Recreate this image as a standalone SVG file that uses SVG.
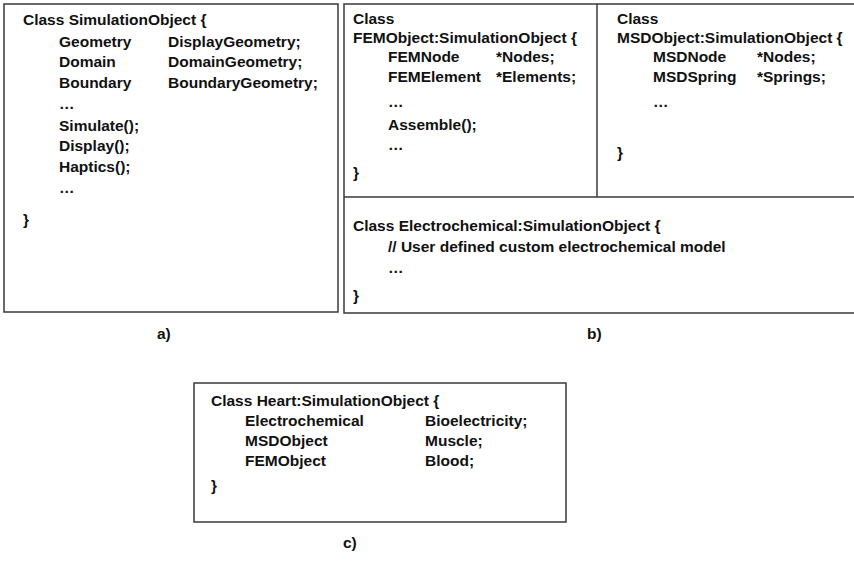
<svg xmlns="http://www.w3.org/2000/svg" width="854" height="572" viewBox="0 0 854 572">
<style>
  text { font-family: "Liberation Sans", Arial, Helvetica, sans-serif; font-weight: bold; font-size: 15.5px; fill: #111; }
  .frame { fill: none; stroke: #3a3a3a; stroke-width: 1.5; }
</style>
<rect width="854" height="572" fill="#fff"/>
<g id="simulationObject">
  <rect class="frame" x="4" y="4" width="334" height="308"/>
  <text x="23" y="25">Class SimulationObject {</text>
  <text x="59" y="47">Geometry</text><text x="168" y="47">DisplayGeometry;</text>
  <text x="59" y="67">Domain</text><text x="168" y="67">DomainGeometry;</text>
  <text x="59" y="88">Boundary</text><text x="168" y="88">BoundaryGeometry;</text>
  <text x="59" y="109">…</text>
  <text x="59" y="131">Simulate();</text>
  <text x="59" y="151">Display();</text>
  <text x="59" y="172">Haptics();</text>
  <text x="59" y="193">…</text>
  <text x="23" y="225">}</text>
</g>
<g id="panelB">
  <path class="frame" d="M854 4 H344 V313 H854 M597 4 V197 M344 197 H854"/>
</g>
<g id="femObject">
  <text x="353" y="24">Class</text>
  <text x="353" y="43">FEMObject:SimulationObject {</text>
  <text x="388" y="62">FEMNode</text><text x="496" y="62">*Nodes;</text>
  <text x="388" y="82">FEMElement</text><text x="496" y="82">*Elements;</text>
  <text x="388" y="107">…</text>
  <text x="388" y="130">Assemble();</text>
  <text x="388" y="150">…</text>
  <text x="353" y="178">}</text>
</g>
<g id="msdObject">
  <text x="617" y="24">Class</text>
  <text x="617" y="43">MSDObject:SimulationObject {</text>
  <text x="653" y="62">MSDNode</text><text x="757" y="62">*Nodes;</text>
  <text x="653" y="82">MSDSpring</text><text x="757" y="82">*Springs;</text>
  <text x="653" y="107">…</text>
  <text x="617" y="158">}</text>
</g>
<g id="electrochemical">
  <text x="353" y="231">Class Electrochemical:SimulationObject {</text>
  <text x="388" y="252">// User defined custom electrochemical model</text>
  <text x="388" y="273">…</text>
  <text x="353" y="301">}</text>
</g>
<g id="heart">
  <rect class="frame" x="194" y="383" width="372" height="139"/>
  <text x="211" y="406">Class Heart:SimulationObject {</text>
  <text x="245" y="426">Electrochemical</text><text x="425" y="426">Bioelectricity;</text>
  <text x="245" y="446">MSDObject</text><text x="425" y="446">Muscle;</text>
  <text x="245" y="466">FEMObject</text><text x="425" y="466">Blood;</text>
  <text x="211" y="491">}</text>
</g>
<g id="labels">
  <text x="157" y="339">a)</text>
  <text x="587" y="339">b)</text>
  <text x="343" y="548">c)</text>
</g>
<g id="connectors"/>
</svg>
